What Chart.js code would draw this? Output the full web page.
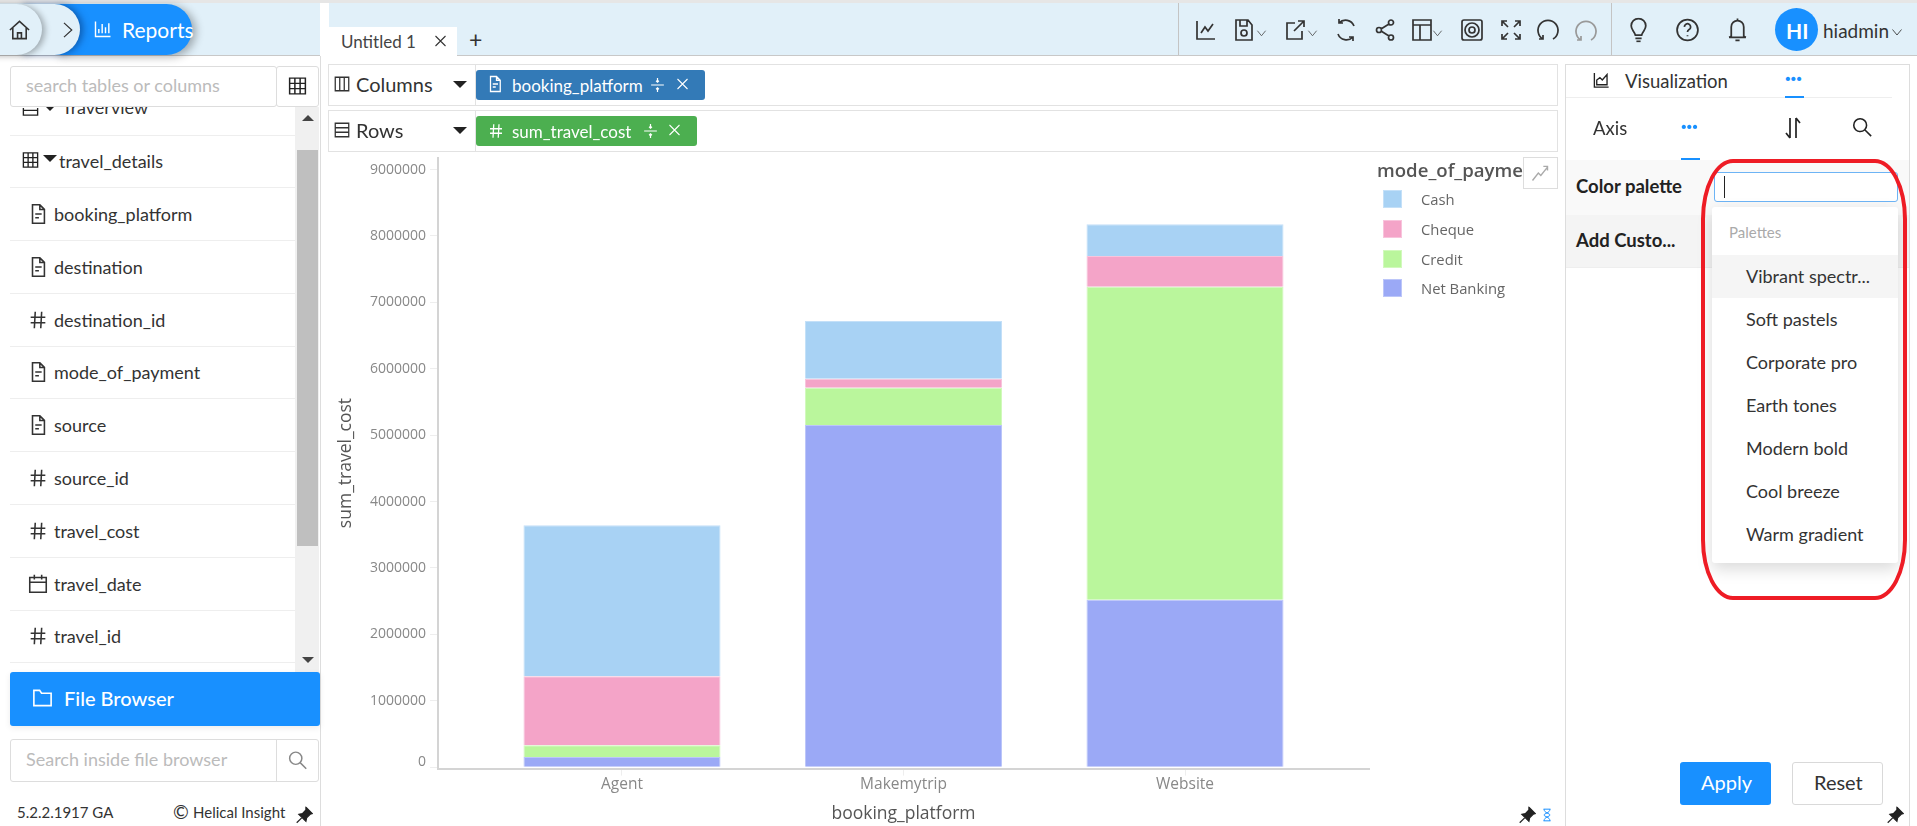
<!DOCTYPE html>
<html>
<head>
<meta charset="utf-8">
<title>Reports</title>
<script src="https://cdn.jsdelivr.net/npm/chart.js@4/dist/chart.umd.min.js"></script>
<style>
html, body { margin: 0; padding: 0; background: #fff; overflow: hidden; }
body { width: 1917px; height: 826px; position: relative; font-family: Lato, sans-serif; color: #333; }
.b { position: absolute; box-sizing: border-box; }
.t { position: absolute; white-space: nowrap; transform: translateY(-50%); line-height: 1; }
svg.i { position: absolute; transform: translateY(-50%); fill: none; stroke: currentColor; stroke-width: 1.7; }
#chartWrap { position: absolute; left: 330px; top: 150px; width: 1060px; height: 676px; }
</style>
</head>
<body>
<div id="chartWrap"><canvas id="chart"></canvas></div>
<script>
// chart values
const categories = ['Agent', 'Makemytrip', 'Website'];
const legendNames = ['Cash', 'Cheque', 'Credit', 'Net Banking'];
const cash = [2275000, 870000, 475000];
const cheque = [1040000, 135000, 465000];
const credit = [175000, 560000, 4715000];
const netBanking = [155000, 5155000, 2520000];
const yTicks = [0, 1000000, 2000000, 3000000, 4000000, 5000000, 6000000, 7000000, 8000000, 9000000];
const seriesColors = { 'Cash': '#a8d2f4', 'Cheque': '#f4a4c8', 'Credit': '#baf69c', 'Net Banking': '#9ba9f6' };
const edgeColors = { 'Cash': '#c4e0f8', 'Cheque': '#f8c4dc', 'Credit': '#d2f9bd', 'Net Banking': '#bcc6f9' };

// side panel and palette texts
const fieldRows = [
    ['doc', 'booking_platform'], ['doc', 'destination'], ['hash', 'destination_id'], ['doc', 'mode_of_payment'],
    ['doc', 'source'], ['hash', 'source_id'], ['hash', 'travel_cost'], ['cal', 'travel_date'], ['hash', 'travel_id']
];
const paletteNames = ['Vibrant spectr...', 'Soft pastels', 'Corporate pro', 'Earth tones', 'Modern bold', 'Cool breeze', 'Warm gradient'];

const ICONS = {
    doc: 'M6 2h8l5 5v15H6z M14 2v5h5 M9 12h7 M9 16h4',
    hash: 'M9 3L8 21 M16 3L15 21 M4 9H20 M4 15H20',
    grid: 'M3 3h18v18H3z M3 9h18 M3 15h18 M9 3v18 M15 3v18',
    cal: 'M3 5h18v16H3z M3 10h18 M8 2v5 M16 2v5',
    search: 'M15 15l7 7 M17 10a7 7 0 1 1-14 0a7 7 0 1 1 14 0',
    x: 'M4 4L20 20 M20 4L4 20',
    split: 'M12 2v6 M12 16v6 M3 12h18 M10 6l2 2 2-2 M10 18l2-2 2 2',
    sort: 'M9 2v20 M9 22l-4-5 M15 22V2 M15 2l4 5',
    home: 'M2 12L12 3l10 9 M5 10v11h14V10 M10 21v-6h4v6',
    chev: 'M7 2L18 12 7 22',
    bars: 'M3 3v18h18 M7 17v-5 M11 17V6 M15 17v-7 M19 17V5',
    line: 'M3 3v18h18 M7 15l4-6 3 4 5-7',
    save: 'M4 2h12l4 5v15H4z M8 2v6h7V2 M15 15a3 3 0 1 1-6 0a3 3 0 1 1 6 0',
    exp: 'M12 5H4v16h15v-8 M11 13L21 3 M15 3h6v6',
    refresh: 'M20 8A9 9 0 0 0 5 5 M4 16A9 9 0 0 0 19 19 M5 1v4h4 M19 23v-4h-4',
    share: 'M18 2a2.5 2.5 0 1 1 0 5a2.5 2.5 0 1 1 0-5 M6 9.5a2.5 2.5 0 1 1 0 5a2.5 2.5 0 1 1 0-5 M18 17a2.5 2.5 0 1 1 0 5a2.5 2.5 0 1 1 0-5 M8 11l8-5 M8 13l8 5',
    layout: 'M3 2h18v20H3z M3 7h18 M10 7v15',
    eye: 'M4 2h16a2 2 0 0 1 2 2v16a2 2 0 0 1-2 2H4a2 2 0 0 1-2-2V4a2 2 0 0 1 2-2z M19 12a7 7 0 1 1-14 0a7 7 0 1 1 14 0 M15 12a3 3 0 1 1-6 0a3 3 0 1 1 6 0',
    expand: 'M3 3l6 6 M3 8V3h5 M21 3l-6 6 M21 8V3h-5 M3 21l6-6 M3 16v5h5 M21 21l-6-6 M21 16v5h-5',
    undo: 'M7 21A10 10 0 1 1 17 21 M7 17v4H3',
    bulb: 'M9 17C8 13 5 12 5 8a7 7 0 1 1 14 0c0 4-3 5-4 9z M9 20h6 M10 23h4',
    help: 'M22 12a10 10 0 1 1-20 0a10 10 0 1 1 20 0 M9 9a3 3 0 1 1 4.500 2.600c-1 .6-1.500 1.200-1.500 2.400 M12 17v1',
    bell: 'M6 18V9a6 6 0 1 1 12 0v9l2 1H4z M10 22h4 M12 1v2',
    vee: 'M3 7L12 18 21 7',
    folder: 'M3 4h6l2 3h10v13H3z',
    area: 'M3 3v18h18 M6 18v-6l4-3 3 3 6-7v13z',
    trend: 'M3 21L10 12l3 3 8-10 M16 4h5v5',
    columns: 'M3 3h18v18H3z M9 3v18 M15 3v18',
    rows: 'M3 3h18v18H3z M3 9h18 M3 15h18',
    glass: 'M6 2h12 M6 22h12 M7 2c0 7 10 7 10 10s-10 3-10 10 M17 2c0 7-10 7-10 10s10 3 10 10'
};

function box(x, y, w, h, css) {
    const el = document.createElement('div');
    el.className = 'b';
    el.style.cssText = `left:${x}px;top:${y}px;width:${w}px;height:${h}px;${css || ''}`;
    document.body.appendChild(el);
    return el;
}
function txt(x, y, text, size, color, css) {
    const el = document.createElement('div');
    el.className = 't';
    el.textContent = text;
    el.style.cssText = `left:${x}px;top:${y}px;font-size:${size}px;color:${color || '#333'};${css || ''}`;
    document.body.appendChild(el);
    return el;
}
function ico(name, x, y, size, color, css) {
    const ns = 'http://www.w3.org/2000/svg';
    const el = document.createElementNS(ns, 'svg');
    el.setAttribute('class', 'i');
    el.setAttribute('viewBox', '0 0 24 24');
    el.setAttribute('width', size);
    el.setAttribute('height', size);
    el.style.cssText = `left:${x}px;top:${y}px;color:${color || '#333'};${css || ''}`;
    const p = document.createElementNS(ns, 'path');
    p.setAttribute('d', ICONS[name]);
    el.appendChild(p);
    document.body.appendChild(el);
}
function pin(x, y) {
    const ns = 'http://www.w3.org/2000/svg';
    const el = document.createElementNS(ns, 'svg');
    el.setAttribute('class', 'i');
    el.setAttribute('viewBox', '0 0 24 24');
    el.setAttribute('width', 17);
    el.setAttribute('height', 17);
    el.style.cssText = `left:${x}px;top:${y}px;color:#222;`;
    el.innerHTML = '<path fill="#222" d="M14 1l9 9-3 1-5 5-1 5-10-10 5-1 5-5z"/><path d="M8 16L1 23"/>';
    document.body.appendChild(el);
}
function tri(x, y, up, w, color) {
    box(x, y, 0, 0, `border-left:${w}px solid transparent;border-right:${w}px solid transparent;` +
        (up ? `border-bottom:${w}px solid ${color};` : `border-top:${w}px solid ${color};`));
}

// top bar
box(0, 0, 1917, 3, 'background:#e6e6e6');
box(0, 3, 320, 53, 'background:#e1f0f9;border-bottom:1px solid #c8c8c8');
box(329, 3, 1588, 53, 'background:#e1f0f9;border-bottom:1px solid #c8c8c8');
box(1178, 3, 1, 52, 'background:#c4c4c4');
box(1611, 3, 1, 52, 'background:#c4c4c4');
box(55, 4, 137, 51, 'background:#1890ff;border-radius:0 26px 26px 0;box-shadow:4px 2px 8px rgba(0,0,0,.3)');
box(20, 4, 60, 51, 'background:#e1f0f9;border-radius:0 26px 26px 0;box-shadow:3px 0 7px rgba(0,40,100,.5)');
box(-20, 4, 62, 51, 'background:#e1f0f9;border-radius:0 26px 26px 0;box-shadow:3px 1px 6px rgba(0,0,0,.3)');
ico('home', 8, 30, 23, '#333');
ico('chev', 59, 30, 17, '#333');
ico('bars', 93, 29, 20, '#fff');
txt(122, 29, 'Reports', 21, '#fff');
box(329, 27, 128, 29, 'background:#fff');
txt(341, 41, 'Untitled 1', 17, '#444');
ico('x', 433, 41, 15, '#333');
txt(469, 39, '+', 23, '#333');

// toolbar icons
[['line', 1194], ['save', 1232], ['exp', 1283], ['refresh', 1334], ['share', 1373], ['layout', 1410], ['eye', 1460], ['expand', 1499], ['undo', 1536]]
    .forEach(([n, x]) => ico(n, x, 30, 24, '#333'));
ico('undo', 1574, 31, 24, '#999');
[1256, 1307, 1432].forEach(x => ico('vee', x, 33, 11, '#444'));
ico('bulb', 1626, 30, 25, '#333');
ico('help', 1675, 30, 25, '#333');
ico('bell', 1725, 30, 25, '#333');
box(1775, 8, 43, 43, 'background:#1890ff;border-radius:50%');
txt(1786, 30, 'HI', 21, '#fff', 'font-weight:700');
txt(1823, 30, 'hiadmin', 19, '#333');
ico('vee', 1891, 32, 12, '#333');

// left panel
box(320, 56, 1, 770, 'background:#ddd');
const clipped = box(10, 107, 285, 28, 'overflow:hidden');
clipped.innerHTML = '<div style="position:absolute;left:52px;top:-11px;font-size:18px;color:#333">Traverview</div>';
ico('rows', 21, 108, 19, '#222', 'clip-path:inset(50% 0 0 0)');
tri(46, 107, false, 4, '#222');
box(10, 66, 267, 41, 'border:1px solid #ddd;border-radius:3px;background:#fff');
box(276, 66, 43, 41, 'border:1px solid #ddd;border-radius:3px;background:#fff');
txt(26, 85, 'search tables or columns', 18, '#bbb');
ico('grid', 287, 86, 21, '#222');
box(295, 107, 24, 565, 'background:#f0f0f0');
box(297, 150, 21, 396, 'background:#bfbfbf');
tri(302, 115, true, 6, '#444');
tri(302, 657, false, 6, '#444');
box(10, 135, 285, 1, 'background:#eee');
ico('grid', 21, 160, 19, '#222');
tri(43, 155, false, 7, '#222');
txt(59, 161, 'travel_details', 18, '#333');
box(10, 187, 285, 1, 'background:#eee');
fieldRows.forEach((row, i) => {
    const y = 214 + i * 52.8;
    ico(row[0], 27, y, 22, '#333');
    txt(54, y, row[1], 18, '#333');
    box(10, Math.round(y + 26), 285, 1, 'background:#eee');
});
box(10, 672, 310, 54, 'background:#1890ff;border-radius:3px;box-shadow:0 2px 6px rgba(0,0,0,.08)');
ico('folder', 31, 698, 23, '#fff');
txt(64, 698, 'File Browser', 20, '#fff', 'font-weight:500');
box(10, 739, 309, 43, 'border:1px solid #ddd;border-radius:3px');
box(276, 739, 1, 43, 'background:#ddd');
txt(26, 759, 'Search inside file browser', 18, '#bbb');
ico('search', 287, 760, 21, '#888');
txt(17, 812, '5.2.2.1917 GA', 15, '#333');
txt(173, 811, '\u00a9', 19, '#333');
txt(193, 812, 'Helical Insight', 15, '#333');
pin(296, 815);

// columns / rows shelves
[[64, 'columns', 'Columns'], [110, 'rows', 'Rows']].forEach(([y, icon, label]) => {
    box(328, y, 1230, 42, 'border:1px solid #e2e2e2');
    box(475, y, 1, 42, 'background:#e2e2e2');
    ico(icon, 333, y + 20, 18, '#333');
    txt(356, y + 20, label, 20, '#333');
    tri(453, y + 17, false, 7, '#222');
});
box(476, 70, 229, 30, 'background:#337ab7;border-radius:3px');
ico('doc', 486, 84, 18, '#fff');
txt(512, 85, 'booking_platform', 17, '#fff');
ico('split', 649, 85, 17, '#fff');
ico('x', 675, 84, 15, '#fff');
box(476, 116, 221, 30, 'background:#4caf50;border-radius:3px');
ico('hash', 487, 131, 18, '#fff');
txt(512, 131, 'sum_travel_cost', 17, '#fff');
ico('split', 642, 131, 17, '#fff');
ico('x', 667, 130, 15, '#fff');

// legend, built from the series names
const legendTitle = box(1377, 157, 146, 34, 'overflow:hidden;white-space:nowrap;font-family:"Open Sans";font-size:18.6px;font-weight:600;color:#555;line-height:26px');
legendTitle.textContent = 'mode_of_payment';
legendNames.forEach((name, i) => {
    const y = 199.4 + i * 29.6;
    box(1383, y - 9, 19, 18, `background:${seriesColors[name]};border:1px solid ${edgeColors[name]}`);
    txt(1421, y, name, 14.8, '#666', 'font-family:"Open Sans"');
});
box(1523, 157, 35, 32, 'background:#fff;border:1px solid #ddd');
ico('trend', 1530, 173, 20, '#aaa');
pin(1519, 815);
ico('glass', 1540, 815, 14, '#1890ff');

// right panel
box(1565, 64, 345, 762, 'border-left:1px solid #ddd;border-right:1px solid #ddd;border-top:1px solid #ddd');
ico('area', 1592, 80, 19, '#222');
txt(1625, 81, 'Visualization', 18.5, '#333');
txt(1785, 77, '\u00b7\u00b7\u00b7', 20, '#1890ff', 'font-weight:900');
box(1566, 97, 326, 1, 'background:#eee');
box(1785, 96, 19, 2, 'background:#1890ff');
txt(1593, 128, 'Axis', 18.5, '#333');
txt(1681, 125, '\u00b7\u00b7\u00b7', 20, '#1890ff', 'font-weight:900');
box(1681, 158, 19, 2, 'background:#1890ff');
ico('sort', 1781, 128, 24, '#222');
ico('search', 1851, 127, 22, '#222');
box(1566, 160, 343, 55, 'background:#f9f9f9');
box(1566, 215, 343, 53, 'background:#f4f4f4;border-bottom:1px solid #eee');
txt(1576, 186, 'Color palette', 18.5, '#222', 'font-weight:700');
txt(1576, 240, 'Add Custo...', 18.5, '#222', 'font-weight:700');
box(1714, 172, 184, 30, 'background:#fff;border:1px solid #6db4f5;border-radius:3px');
box(1724, 176, 1, 22, 'background:#222');
box(1712, 207, 186, 356, 'background:#fff;border-radius:3px;box-shadow:0 6px 16px rgba(0,0,0,.15)');
txt(1729, 232, 'Palettes', 15, '#aaa');
box(1712, 255, 186, 43, 'background:#f5f5f5');
paletteNames.forEach((name, i) => txt(1746, 276 + i * 43, name, 18, '#333'));
box(1701, 159, 206, 441, 'border:4.500px solid #ee1c25;border-radius:32px / 60px');
box(1680, 762, 91, 43, 'background:#1890ff;border-radius:3px');
txt(1701, 782, 'Apply', 20, '#fff');
box(1792, 762, 91, 43, 'border:1px solid #d9d9d9;border-radius:3px;background:#fff');
txt(1814, 782, 'Reset', 20, '#333');
pin(1887, 815);

// chart
const fontFamily = '"Open Sans"';
const stackOrder = [['Net Banking', netBanking], ['Credit', credit], ['Cheque', cheque], ['Cash', cash]];
new Chart(document.getElementById('chart'), {
    type: 'bar',
    data: {
        datasets: stackOrder.map(([name, values]) => ({
            label: name,
            data: values.map((v, i) => ({ x: i, y: v })),
            backgroundColor: seriesColors[name],
            borderColor: edgeColors[name],
            borderWidth: 1,
            categoryPercentage: 0.7,
            barPercentage: 1
        }))
    },
    options: {
        responsive: true,
        maintainAspectRatio: false,
        animation: false,
        layout: { padding: { top: 7.5, right: 21 } },
        plugins: { legend: { display: false }, tooltip: { enabled: false } },
        scales: {
            x: {
                type: 'linear',
                stacked: true,
                offset: false,
                min: -0.6536,
                max: 2.6536,
                afterBuildTicks: scale => { scale.ticks = categories.map((c, i) => ({ value: i })); },
                afterFit: scale => { scale.height = 57.4; scale.paddingLeft = 0; scale.paddingRight = 0; },
                grid: { offset: false, drawOnChartArea: false, tickLength: 7, tickColor: '#eeeeee' },
                border: { color: '#d4d4d4', width: 2 },
                ticks: {
                    autoSkip: false, maxRotation: 0, padding: 0, color: '#888888',
                    font: { family: fontFamily, size: 15.5 },
                    callback: value => categories[value]
                },
                title: {
                    display: true, text: 'booking_platform', color: '#555555',
                    font: { family: fontFamily, size: 17.5 }, padding: { top: 0, bottom: 1 }
                }
            },
            y: {
                stacked: true,
                min: -21000,
                max: 9182000,
                afterBuildTicks: scale => { scale.ticks = yTicks.map(v => ({ value: v })); },
                afterFit: scale => { scale.width = 108; scale.paddingTop = 0; scale.paddingBottom = 0; },
                grid: { drawOnChartArea: false, tickLength: 8, tickColor: '#eeeeee' },
                border: { color: '#d4d4d4', width: 2 },
                ticks: {
                    padding: 4, color: '#888888',
                    font: c => ({ family: fontFamily, size: 14, lineHeight: c.tick && c.tick.value === 0 ? 0.8 : 1.2 }),
                    // the zero label sits a little above its tick in the original
                    callback: value => value === 0 ? ['0', ''] : String(value)
                },
                title: {
                    display: true, text: 'sum_travel_cost', color: '#555555',
                    font: { family: fontFamily, size: 17.5 }, padding: { top: 6, bottom: 0 }
                }
            }
        }
    }
});
</script>
</body>
</html>
